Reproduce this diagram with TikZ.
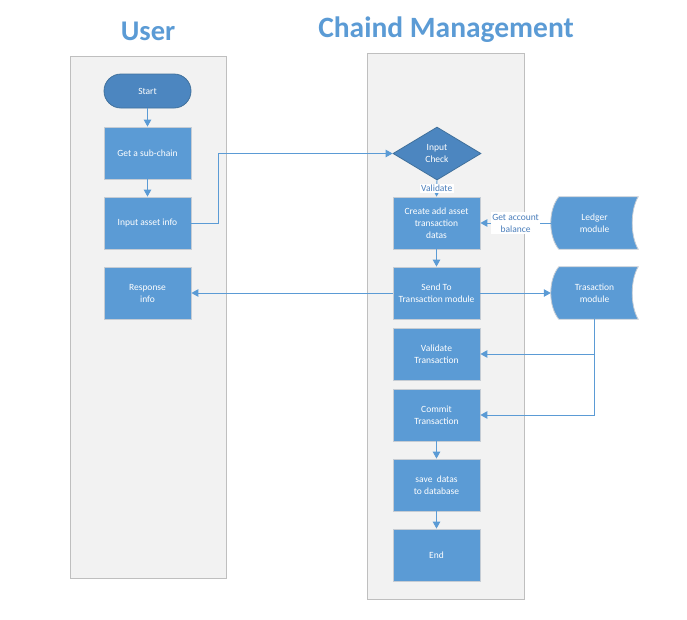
\documentclass[tikz,border=0pt]{standalone}
\usepackage{fontspec}
\setmainfont{Carlito}
\usetikzlibrary{arrows.meta,shapes.geometric,calc}
\definecolor{boxblue}{HTML}{5B9BD5}
\definecolor{darkblue}{HTML}{4C86C0}
\definecolor{darkedge}{HTML}{41719C}
\definecolor{boxedge}{HTML}{C5CCD4}
\definecolor{lanefill}{HTML}{F2F2F2}
\definecolor{lanedraw}{HTML}{BFBFBF}
\definecolor{txtblue}{HTML}{4A7EBB}
\definecolor{linecol}{HTML}{5B9BD5}
\pgfdeclarelayer{background}
\pgfsetlayers{background,main}
\newcommand{\storedshape}[1]{%
  \draw[sdata] ($(#1.north west)+(8,0)$) -- (#1.north east)
    .. controls ($(#1.north east)+(-8,13)$) and ($(#1.south east)+(-8,-13)$) .. (#1.south east)
    -- ($(#1.south west)+(8,0)$)
    .. controls ($(#1.south west)+(-2.7,-13)$) and ($(#1.north west)+(-2.7,13)$) .. cycle;}
\begin{document}
\begin{tikzpicture}[x=1pt,y=-1pt,
  txt/.style={font=\fontsize{9.5}{12}\selectfont},
  box/.style={rectangle, draw=boxedge, fill=boxblue, line width=0.8pt,
    minimum width=87pt, minimum height=52pt, text=white, align=center,
    inner sep=1pt, txt},
  term/.style={rectangle, rounded corners=17pt, draw=darkedge, fill=darkblue,
    line width=0.8pt, minimum width=87pt, minimum height=34pt, text=white,
    inner sep=1pt, txt},
  decide/.style={diamond, aspect=1.66, draw=darkedge, fill=darkblue, line width=0.8pt,
    minimum width=88pt, minimum height=53pt, inner sep=0pt, text=white, align=center, txt},
  sdnode/.style={rectangle, draw=none, minimum width=87pt, minimum height=52pt,
    text=white, align=center, inner sep=1pt, txt},
  sdata/.style={draw=boxedge, fill=boxblue, line width=0.8pt},
  lane/.style={draw=lanedraw, fill=lanefill, line width=0.8pt},
  title/.style={text=boxblue, font=\fontsize{28.5}{32}\selectfont\bfseries, anchor=base},
  conn/.style={draw=linecol, line width=1pt, -{Triangle[length=7pt,width=7.5pt]}},
  lbl/.style={fill=white, text=txtblue, inner sep=1.5pt, align=center, txt}]
\useasboundingbox (0,0) rectangle (687,619);
\begin{pgfonlayer}{background}
  \draw[lane] (70,56) rectangle (226,578);
  \draw[lane] (367,53) rectangle (524,599);
\end{pgfonlayer}
\node[title] (tuser) at (148,40) {User};
\node[title, font=\fontsize{29.5}{32}\selectfont\bfseries] (tchain) at (446,37) {Chaind Management};
% user lane
\node[term] (start) at (147.5,91) {Start};
\node[box] (sub) at (147.5,153) {Get a sub-chain};
\node[box] (inp) at (147.5,223) {Input asset info};
\node[box] (resp) at (147.5,293) {Response\\info};
% chain lane
\node[decide] (chk) at (437,153.5) {Input\\Check};
\node[box] (create) at (436.5,223) {Create add asset\\transaction\\datas};
\node[box] (send) at (436.5,293) {Send To\\Transaction module};
\node[box] (val) at (436.5,354) {Validate\\Transaction};
\node[box] (commit) at (436.5,415) {Commit\\Transaction};
\node[box] (save) at (436.5,485) {save\ \ datas\\to database};
\node[box] (endn) at (436.5,555) {End};
% stored data
\node[sdnode] (ledger) at (594.5,223) {Ledger\\module};
\node[sdnode] (tmod) at (594.5,293) {Trasaction\\module};
\begin{pgfonlayer}{background}
  \storedshape{ledger}
  \storedshape{tmod}
\end{pgfonlayer}
% connectors
\draw[conn] (start) -- (sub);
\draw[conn] (sub) -- (inp);
\draw[conn] (inp.east) -- ++(27,0) |- (chk.west);
\draw[conn] (chk.south) -- node[lbl, midway] {Validate} (create.north);
\draw[conn] (ledger.west) -- node[lbl, midway] {Get account\\balance} (create.east);
\draw[conn] (create) -- (send);
\draw[conn] (send.west) -- (resp.east);
\draw[conn] (send.east) -- (tmod.west);
\draw[conn] (tmod.south) |- (commit.east);
\draw[conn] (tmod.south |- val.east) -- (val.east);
\draw[conn] (commit) -- (save);
\draw[conn] (save) -- (endn);
\end{tikzpicture}
\end{document}
